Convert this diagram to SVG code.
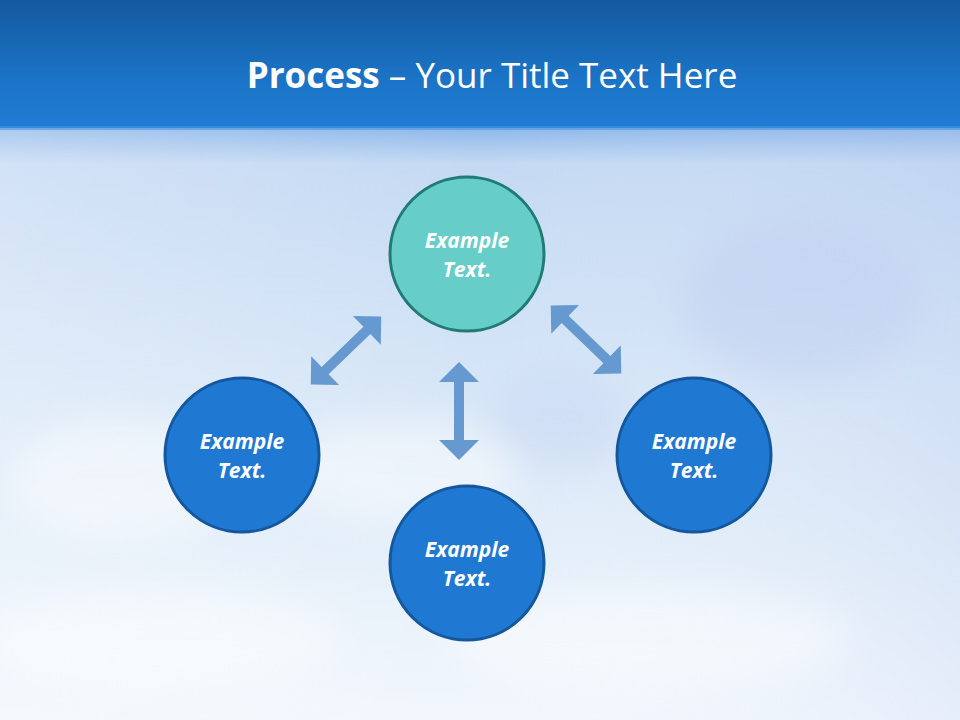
<svg xmlns="http://www.w3.org/2000/svg" width="960" height="720" viewBox="0 0 960 720">
<defs>
<linearGradient id="hdr" x1="0" y1="0" x2="0" y2="1">
<stop offset="0" stop-color="#13599d"/>
<stop offset="0.6" stop-color="#1b73c6"/>
<stop offset="1" stop-color="#1e7dd3"/>
</linearGradient>
<linearGradient id="sky" x1="0" y1="0" x2="0" y2="1">
<stop offset="0" stop-color="#8fb8ea"/>
<stop offset="0.06" stop-color="#c4d9f3"/>
<stop offset="0.35" stop-color="#d2e3f6"/>
<stop offset="0.7" stop-color="#e3eef9"/>
<stop offset="1" stop-color="#f2f7fd"/>
</linearGradient>
<linearGradient id="skyside" x1="0" y1="0" x2="1" y2="0">
<stop offset="0" stop-color="#ffffff" stop-opacity="0.25"/>
<stop offset="0.5" stop-color="#ffffff" stop-opacity="0"/>
<stop offset="1" stop-color="#b8c8ee" stop-opacity="0.2"/>
</linearGradient>
<filter id="soft" x="-50%" y="-50%" width="200%" height="200%"><feGaussianBlur stdDeviation="18"/></filter>
<polygon id="dbl" points="-49,0 -29,-20 -29,-5 29,-5 29,-20 49,0 29,20 29,5 -29,5 -29,20"/>
</defs>
<style>
.arrow{fill:#6699cf}
.nodeA{fill:#66cdc9;stroke:#217a76;stroke-width:3}
.nodeB{fill:#1f78d1;stroke:#14579c;stroke-width:3}
.lbl{font-family:"Open Sans","Liberation Sans",sans-serif;font-weight:bold;font-style:italic;font-size:21px;fill:#ffffff;text-anchor:middle}
.title{font-family:"Open Sans","Liberation Sans",sans-serif;font-size:35px;fill:#ffffff;text-anchor:middle}
</style>
<rect x="0" y="128" width="960" height="592" fill="url(#sky)"/>
<rect x="0" y="128" width="960" height="592" fill="url(#skyside)"/>
<g filter="url(#soft)" opacity="0.45">
<ellipse cx="120" cy="480" rx="110" ry="60" fill="#ffffff"/>
<ellipse cx="400" cy="470" rx="120" ry="50" fill="#ffffff"/>
<ellipse cx="800" cy="300" rx="120" ry="80" fill="#c0cdf0"/>
<ellipse cx="560" cy="420" rx="70" ry="50" fill="#c6d6f3"/>
<ellipse cx="650" cy="640" rx="200" ry="50" fill="#ffffff"/>
<ellipse cx="160" cy="640" rx="180" ry="50" fill="#ffffff"/>
</g>
<rect x="0" y="0" width="960" height="128" fill="url(#hdr)"/>
<rect x="0" y="126" width="960" height="4" fill="#4a92e2" opacity="0.6"/>
<text class="title" x="492" y="88"><tspan font-weight="bold">Process</tspan> – Your Title Text Here</text>
<g id="connectors">
<use href="#dbl" class="arrow" transform="translate(346,350.5) rotate(-44)"/>
<use href="#dbl" class="arrow" transform="translate(459,411) rotate(90)"/>
<use href="#dbl" class="arrow" transform="translate(586,339.5) rotate(44)"/>
</g>
<g id="node-top">
<circle class="nodeA" cx="467" cy="254" r="77"/>
<text class="lbl" x="467" y="248">Example</text>
<text class="lbl" x="467" y="277">Text.</text>
</g>
<g id="node-left">
<circle class="nodeB" cx="242" cy="455" r="77"/>
<text class="lbl" x="242" y="449">Example</text>
<text class="lbl" x="242" y="478">Text.</text>
</g>
<g id="node-right">
<circle class="nodeB" cx="694" cy="455" r="77"/>
<text class="lbl" x="694" y="449">Example</text>
<text class="lbl" x="694" y="478">Text.</text>
</g>
<g id="node-bottom">
<circle class="nodeB" cx="467" cy="563" r="77"/>
<text class="lbl" x="467" y="557">Example</text>
<text class="lbl" x="467" y="586">Text.</text>
</g>
</svg>
